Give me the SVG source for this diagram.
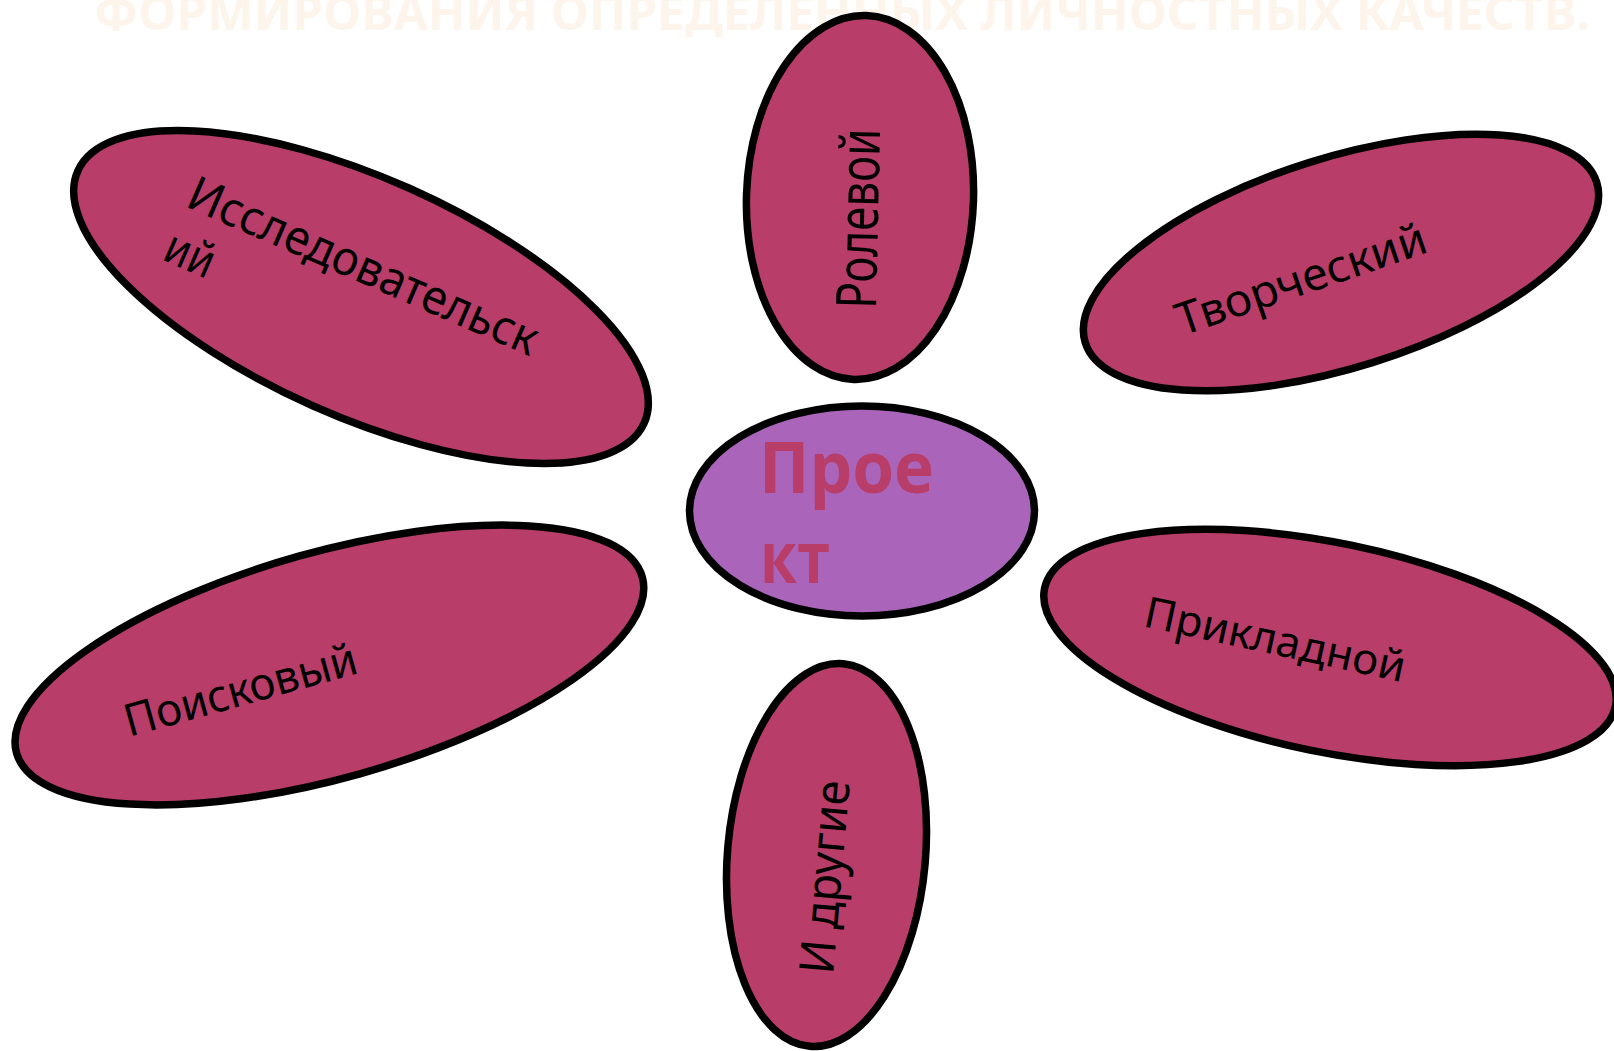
<svg xmlns="http://www.w3.org/2000/svg" width="1614" height="1051" viewBox="0 0 1614 1051">
<style>
.petal{fill:#b83d68;stroke:#000;stroke-width:7.5}
.core{fill:#aa64b9;stroke:#000;stroke-width:7.5}
.lbl{font-family:"Noto Sans","DejaVu Sans",sans-serif;fill:#000}
.ctr{font-family:"Open Sans","Noto Sans",sans-serif;font-weight:bold;fill:#b83d68;font-size:72px}
.title{font-family:"Noto Sans","DejaVu Sans",sans-serif;font-weight:bold;fill:#fdf5ec;font-size:48px}
</style>
<rect width="1614" height="1051" fill="#fff"/>
<text class="title" x="94" y="29.5" textLength="1496" lengthAdjust="spacingAndGlyphs">ФОРМИРОВАНИЯ ОПРЕДЕЛЕННЫХ ЛИЧНОСТНЫХ КАЧЕСТВ.</text>
<g id="connectors"></g>
<g id="node-issled">
<ellipse class="petal" cx="361" cy="297" rx="310" ry="119" transform="rotate(24 361 297)"/>
<g transform="translate(184 206) rotate(23.5)">
<text class="lbl" x="0" y="0" font-size="48" textLength="377" lengthAdjust="spacingAndGlyphs">Исследовательск</text>
<text class="lbl" x="0" y="58" font-size="48" textLength="50" lengthAdjust="spacingAndGlyphs">ий</text>
</g>
</g>
<g id="node-rolevoy">
<ellipse class="petal" cx="860" cy="197.5" rx="113.5" ry="182" transform="rotate(2 860 197.5)"/>
<text class="lbl" font-size="56" textLength="180" lengthAdjust="spacingAndGlyphs" transform="translate(876 309) rotate(-88.7)">Ролевой</text>
</g>
<g id="node-tvorch">
<ellipse class="petal" cx="1341" cy="262.5" rx="268" ry="105" transform="rotate(-17.4 1341 262.5)"/>
<text class="lbl" font-size="45" textLength="262" lengthAdjust="spacingAndGlyphs" transform="translate(1182 336) rotate(-18.8)">Творческий</text>
</g>
<g id="node-prikl">
<ellipse class="petal" cx="1330" cy="647.5" rx="291.5" ry="104.5" transform="rotate(11.7 1330 647.5)"/>
<text class="lbl" font-size="43" textLength="266" lengthAdjust="spacingAndGlyphs" transform="translate(1142 626) rotate(12.2)">Прикладной</text>
</g>
<g id="node-poisk">
<ellipse class="petal" cx="329.4" cy="665" rx="325" ry="113" transform="rotate(-15.7 329.4 665)"/>
<text class="lbl" font-size="45" textLength="240" lengthAdjust="spacingAndGlyphs" transform="translate(129 737) rotate(-15.5)">Поисковый</text>
</g>
<g id="node-drugie">
<ellipse class="petal" cx="826.5" cy="855" rx="99" ry="192" transform="rotate(5 826.5 855)"/>
<text class="lbl" font-size="48" textLength="194" lengthAdjust="spacingAndGlyphs" transform="translate(833 975) rotate(-85)">И другие</text>
</g>
<g id="node-proekt">
<ellipse class="core" cx="862" cy="511" rx="172.5" ry="105"/>
<text class="ctr" x="759" y="493" textLength="175" lengthAdjust="spacingAndGlyphs">Прое</text>
<text class="ctr" x="760" y="583" textLength="70" lengthAdjust="spacingAndGlyphs">кт</text>
</g>
</svg>
